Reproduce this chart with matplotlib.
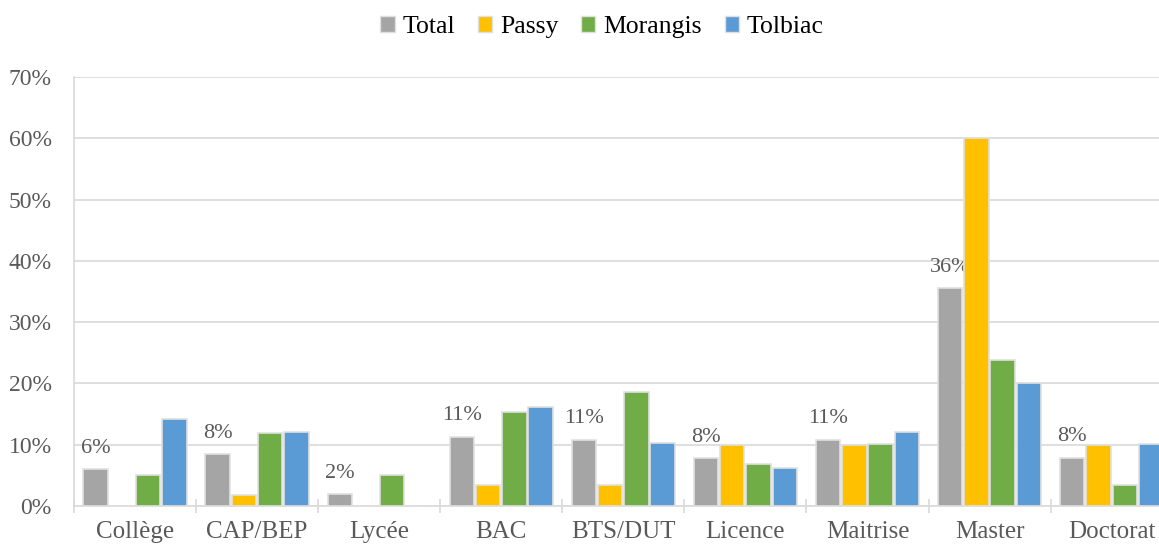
import numpy as np
import matplotlib.pyplot as plt
from matplotlib.patches import Patch

# niveaux de diplome
categories = ['Collège', 'CAP/BEP', 'Lycée', 'BAC', 'BTS/DUT', 'Licence', 'Maitrise', 'Master', 'Doctorat']
series = ['Total', 'Passy', 'Morangis', 'Tolbiac']
total = [6.0, 8.4, 1.9, 11.3, 10.8, 7.8, 10.8, 35.5, 7.9]
passy = [0, 1.8, 0, 3.5, 3.5, 10.0, 10.0, 60.0, 10.0]
morangis = [5.1, 11.9, 5.1, 15.3, 18.6, 6.8, 10.1, 23.8, 3.4]
tolbiac = [14.2, 12.1, 0, 16.1, 10.2, 6.2, 12.1, 20.1, 10.1]
total_labels = ['6%', '8%', '2%', '11%', '11%', '8%', '11%', '36%', '8%']

colors = ['#A5A5A5', '#FFC000', '#70AD47', '#5B9BD5']
plt.rcParams['font.family'] = ['Liberation Serif', 'DejaVu Serif']

fig = plt.figure(figsize=(11.59, 5.44), dpi=100)
ax = fig.add_axes([0.0638, 0.0699, 0.948, 0.7886])

x = np.arange(len(categories))
step = 0.215
width = 0.2
data = [total, passy, morangis, tolbiac]
for i, vals in enumerate(data):
    pos = x + (i - 1.5) * step
    ax.bar(pos, vals, width, color=colors[i], edgecolor='#E0E0E0', linewidth=1.2, zorder=3)
    if i == 0:
        for px, v, lab in zip(pos, vals, total_labels):
            ax.annotate(lab, (px, v), xytext=(0, 15), textcoords='offset points',
                        ha='center', va='center', fontsize=16, color='#595959')

ax.set_xlim(-0.5, len(categories) - 0.5)
ax.set_ylim(0, 70)
ax.set_yticks(np.arange(0, 71, 10))
ax.set_yticklabels([f'{v}%' for v in range(0, 71, 10)])
ax.yaxis.grid(True, color='#D9D9D9', linewidth=1.2, zorder=0)
ax.tick_params(axis='y', length=0, pad=16, labelsize=17, labelcolor='#595959')

ax.set_xticks(np.arange(-0.5, len(categories), 1))
ax.set_xticklabels([])
ax.set_xticks(x, minor=True)
ax.set_xticklabels(categories, minor=True)
ax.tick_params(axis='x', which='major', direction='inout', length=10, color='#D9D9D9', width=1.2)
ax.tick_params(axis='x', which='minor', length=0, pad=11, labelsize=18, labelcolor='#595959')

for s in ['top', 'right']:
    ax.spines[s].set_visible(False)
ax.spines['left'].set_color('#D9D9D9')
ax.spines['bottom'].set_color('#D9D9D9')
ax.spines['left'].set_linewidth(1.2)
ax.spines['bottom'].set_linewidth(1.2)

handles = [Patch(facecolor=c, edgecolor='#E0E0E0') for c in colors]
fig.legend(handles, series, loc='center', bbox_to_anchor=(602 / 1159, 1 - 27 / 544), ncol=4,
           frameon=False, fontsize=18.5, handlelength=0.55, handleheight=0.55,
           handletextpad=0.3, columnspacing=0.9)

fig.savefig('out.png', dpi=100)
